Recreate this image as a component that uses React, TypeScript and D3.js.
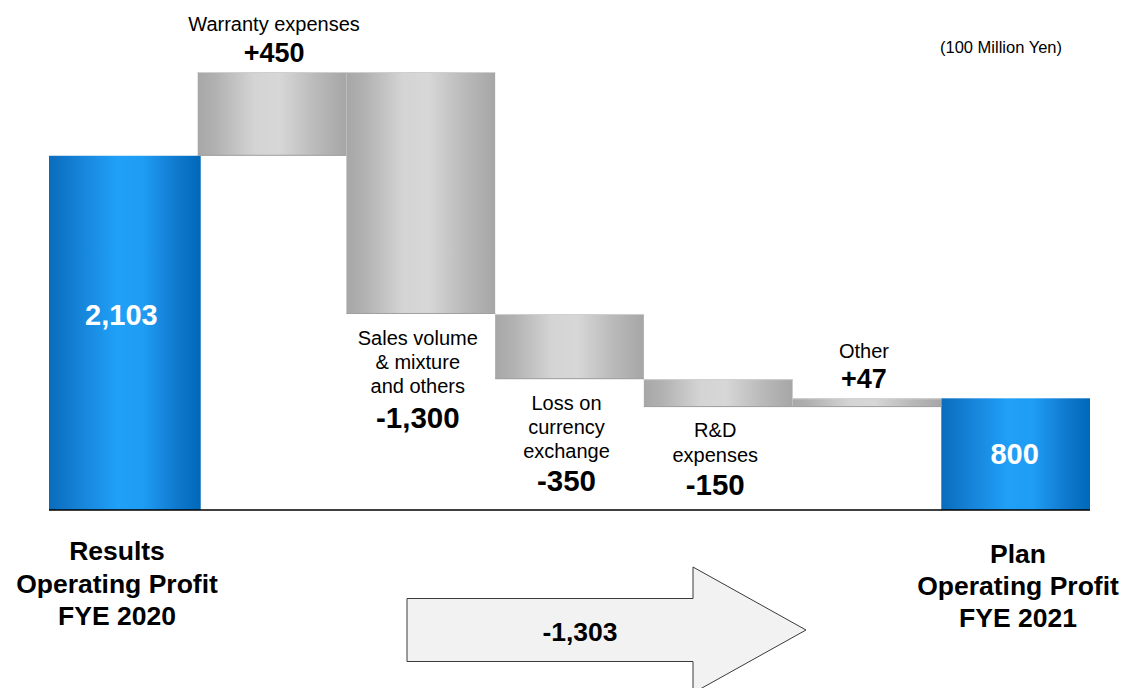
import React from "react";
import * as d3 from "d3";

const categories = ["Results FYE 2020", "Warranty expenses", "Sales volume", "Loss on currency exchange", "R&D expenses", "Other", "Plan FYE 2021"];
const startValue = 2103;
const deltas = [450, -1300, -350, -150, 47];
const endValue = 800;
const axisBase = 200;
const deltaLabelLines = [
  ["Warranty expenses"],
  ["Sales volume", "& mixture", "and others"],
  ["Loss on", "currency", "exchange"],
  ["R&D", "expenses"],
  ["Other"],
];
const startLabelLines = ["Results", "Operating Profit", "FYE 2020"];
const endLabelLines = ["Plan", "Operating Profit", "FYE 2021"];
const unitLabel = "(100 Million Yen)";

const W = 1125;
const H = 688;
const FONT = "'Liberation Sans', Arial, sans-serif";

export default function App() {
  const fmt = d3.format(",");
  const signed = (v: number) => (v > 0 ? "+" : "-") + fmt(Math.abs(v));

  const levels: number[] = [startValue];
  deltas.forEach((d) => levels.push(levels[levels.length - 1] + d));
  const maxLevel = d3.max(levels) as number;

  const x = d3.scaleBand<string>().domain(categories).range([49, 1090]).padding(0);
  const y = d3.scaleLinear().domain([axisBase, maxLevel]).range([510, 72]);
  const bw = x.bandwidth();

  const deltaBars = deltas.map((d, i) => {
    const from = levels[i];
    const to = levels[i + 1];
    return {
      cat: categories[i + 1],
      value: d,
      top: y(Math.max(from, to)),
      bottom: y(Math.min(from, to)),
      x0: x(categories[i + 1]) as number,
      lines: deltaLabelLines[i],
    };
  });

  const firstX = x(categories[0]) as number;
  const lastX = x(categories[categories.length - 1]) as number;
  const total = endValue - startValue;

  const labelPlacement = [
    { base: 31, numY: 62, dx: 2 },
    { base: 345, numY: 428, dx: -3 },
    { base: 410, numY: 491, dx: -3 },
    { base: 437, numY: 495, dx: -3 },
    { base: 358, numY: 388, dx: -3 },
  ];
  const lineGap = [24, 24, 24, 25, 24];

  const ax0 = 407, ax1 = 693, tip = 806, cy = 630, bh = 31.5, hh = 63;
  const arrowPath = `M${ax0},${cy - bh} L${ax1},${cy - bh} L${ax1},${cy - hh} L${tip},${cy} L${ax1},${cy + hh} L${ax1},${cy + bh} L${ax0},${cy + bh} Z`;

  return (
    <svg width={W} height={H} style={{ display: "block", position: "absolute", left: 0, top: 0 }} fontFamily={FONT}>
      <defs>
        <linearGradient id="grayGrad" x1="0" x2="1" y1="0" y2="0">
          <stop offset="0" stopColor="#a7a7a7" />
          <stop offset="0.12" stopColor="#b1b1b1" />
          <stop offset="0.38" stopColor="#d4d4d4" />
          <stop offset="0.55" stopColor="#d7d7d7" />
          <stop offset="0.8" stopColor="#b9b9b9" />
          <stop offset="1" stopColor="#a6a6a6" />
        </linearGradient>
        <linearGradient id="blueGrad" x1="0" x2="1" y1="0" y2="0">
          <stop offset="0" stopColor="#0a6cbc" />
          <stop offset="0.2" stopColor="#1683d8" />
          <stop offset="0.45" stopColor="#20a0f8" />
          <stop offset="0.62" stopColor="#1f9cf3" />
          <stop offset="0.85" stopColor="#0e78cc" />
          <stop offset="1" stopColor="#0068b8" />
        </linearGradient>
      </defs>

      <rect x={firstX} y={y(startValue)} width={bw + 3} height={y(axisBase) - y(startValue)} fill="url(#blueGrad)" />
      <rect x={lastX} y={y(endValue)} width={bw} height={y(axisBase) - y(endValue)} fill="url(#blueGrad)" />

      {deltaBars.map((b) => (
        <g key={b.cat}>
          <rect x={b.x0} y={b.top} width={bw} height={b.bottom - b.top} fill="url(#grayGrad)" />
          <line x1={b.x0} x2={b.x0 + bw} y1={b.top + 0.5} y2={b.top + 0.5} stroke="#cfcfcf" strokeWidth={1} />
          <line x1={b.x0} x2={b.x0 + bw} y1={b.bottom - 0.5} y2={b.bottom - 0.5} stroke="#a0a0a0" strokeWidth={1} />
        </g>
      ))}

      <line x1={firstX} x2={lastX + bw} y1={y(axisBase)} y2={y(axisBase)} stroke="#000" strokeWidth={1.5} />

      <text x={firstX + bw / 2 - 2} y={325} textAnchor="middle" fill="#fff" fontWeight="bold" fontSize={29}>{fmt(startValue)}</text>
      <text x={lastX + bw / 2 - 1} y={464} textAnchor="middle" fill="#fff" fontWeight="bold" fontSize={29}>{fmt(endValue)}</text>

      {deltaBars.map((b, i) => {
        const p = labelPlacement[i];
        const cx = b.x0 + bw / 2 + p.dx;
        return (
          <g key={"lab" + b.cat}>
            {b.lines.map((ln, j) => (
              <text key={j} x={cx} y={p.base + j * lineGap[i]} textAnchor="middle" fontSize={20} fill="#000">{ln}</text>
            ))}
            <text x={cx} y={p.numY} textAnchor="middle" fontSize={b.value > 0 ? 27 : 29.5} fontWeight="bold" fill="#000">{signed(b.value)}</text>
          </g>
        );
      })}

      <text x={1001} y={53} textAnchor="middle" fontSize={16.5} fill="#000">{unitLabel}</text>

      {startLabelLines.map((ln, j) => (
        <text key={"s" + j} x={117} y={560 + j * 32.5} textAnchor="middle" fontSize={26.5} fontWeight="bold" fill="#000">{ln}</text>
      ))}
      {endLabelLines.map((ln, j) => (
        <text key={"e" + j} x={1018} y={563 + j * 32} textAnchor="middle" fontSize={26.5} fontWeight="bold" fill="#000">{ln}</text>
      ))}

      <path d={arrowPath} fill="#f2f2f2" stroke="#3a3a3a" strokeWidth={1} />
      <text x={580} y={641} textAnchor="middle" fontSize={26.5} fontWeight="bold" fill="#000">{signed(total)}</text>
    </svg>
  );
}
